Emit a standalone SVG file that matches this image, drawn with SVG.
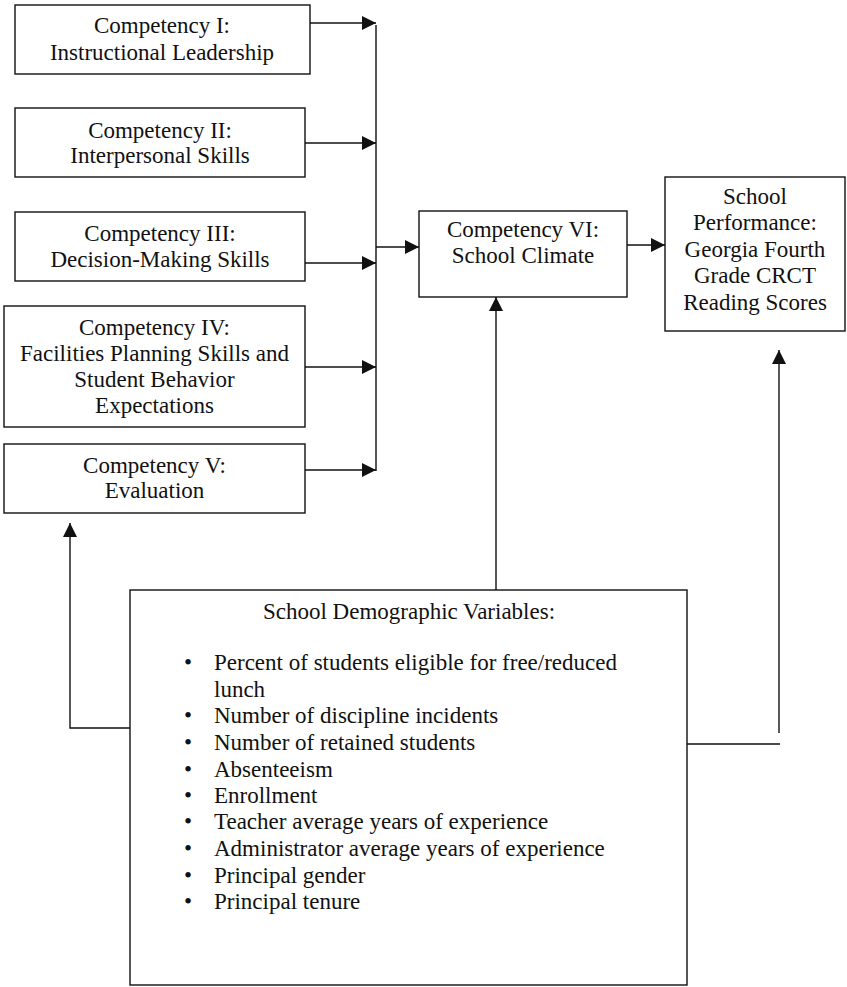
<svg xmlns="http://www.w3.org/2000/svg" width="847" height="987" viewBox="0 0 847 987">
<defs>
<style>
.box{fill:#fff;stroke:#111;stroke-width:1.4}
.t{font-family:"Liberation Serif","Times New Roman",serif;font-size:23px;fill:#111;text-anchor:middle}
.l{font-family:"Liberation Serif","Times New Roman",serif;font-size:23px;fill:#111}
.c{fill:none;stroke:#111;stroke-width:1.4}
</style>
<marker id="ah" markerUnits="userSpaceOnUse" markerWidth="14" markerHeight="14" refX="14" refY="7" orient="auto">
<path d="M0,0 L14,7 L0,14 z" fill="#111"/>
</marker>
</defs>
<rect width="847" height="987" fill="#fff"/>
<g id="connectors">
<line class="c" x1="376" y1="25" x2="376" y2="471"/>
<line class="c" x1="310" y1="23" x2="376" y2="23" marker-end="url(#ah)"/>
<line class="c" x1="305" y1="143" x2="376" y2="143" marker-end="url(#ah)"/>
<line class="c" x1="305" y1="263" x2="376" y2="263" marker-end="url(#ah)"/>
<line class="c" x1="305" y1="367" x2="376" y2="367" marker-end="url(#ah)"/>
<line class="c" x1="305" y1="470" x2="376" y2="470" marker-end="url(#ah)"/>
<line class="c" x1="376" y1="247" x2="419" y2="247" marker-end="url(#ah)"/>
<line class="c" x1="627" y1="245" x2="665" y2="245" marker-end="url(#ah)"/>
<line class="c" x1="496" y1="590" x2="496" y2="297" marker-end="url(#ah)"/>
<polyline class="c" points="130,728 70,728 70,523" marker-end="url(#ah)"/>
<line class="c" x1="779" y1="733" x2="779" y2="350" marker-end="url(#ah)"/>
<line class="c" x1="687" y1="744" x2="780" y2="744"/>
</g>
<g id="c1">
<rect class="box" x="15" y="5" width="295" height="69"/>
<text class="t" x="162" y="33">Competency I:</text>
<text class="t" x="162" y="60">Instructional Leadership</text>
</g>
<g id="c2">
<rect class="box" x="15" y="108" width="290" height="69"/>
<text class="t" x="160" y="138">Competency II:</text>
<text class="t" x="160" y="163">Interpersonal Skills</text>
</g>
<g id="c3">
<rect class="box" x="15" y="212" width="290" height="69"/>
<text class="t" x="160" y="241">Competency III:</text>
<text class="t" x="160" y="267">Decision-Making Skills</text>
</g>
<g id="c4">
<rect class="box" x="4" y="306" width="301" height="121"/>
<text class="t" x="154.5" y="335">Competency IV:</text>
<text class="t" x="154.5" y="361">Facilities Planning Skills and</text>
<text class="t" x="154.5" y="387">Student Behavior</text>
<text class="t" x="154.5" y="413">Expectations</text>
</g>
<g id="c5">
<rect class="box" x="4" y="444" width="301" height="69"/>
<text class="t" x="154.5" y="473">Competency V:</text>
<text class="t" x="154.5" y="498">Evaluation</text>
</g>
<g id="c6">
<rect class="box" x="419" y="211" width="208" height="86"/>
<text class="t" x="523" y="237">Competency VI:</text>
<text class="t" x="523" y="263">School Climate</text>
</g>
<g id="perf">
<rect class="box" x="665" y="177" width="180" height="154"/>
<text class="t" x="755" y="204">School</text>
<text class="t" x="755" y="230">Performance:</text>
<text class="t" x="755" y="257">Georgia Fourth</text>
<text class="t" x="755" y="283">Grade CRCT</text>
<text class="t" x="755" y="310">Reading Scores</text>
</g>
<g id="demo">
<rect class="box" x="130" y="590" width="557" height="395"/>
<text class="t" x="409" y="619">School Demographic Variables:</text>
<g class="l">
<text x="184" y="670">•</text><text x="214" y="670">Percent of students eligible for free/reduced</text>
<text x="214" y="697">lunch</text>
<text x="184" y="723">•</text><text x="214" y="723">Number of discipline incidents</text>
<text x="184" y="750">•</text><text x="214" y="750">Number of retained students</text>
<text x="184" y="777">•</text><text x="214" y="777">Absenteeism</text>
<text x="184" y="803">•</text><text x="214" y="803">Enrollment</text>
<text x="184" y="829">•</text><text x="214" y="829">Teacher average years of experience</text>
<text x="184" y="856">•</text><text x="214" y="856">Administrator average years of experience</text>
<text x="184" y="883">•</text><text x="214" y="883">Principal gender</text>
<text x="184" y="909">•</text><text x="214" y="909">Principal tenure</text>
</g>
</g>
</svg>
